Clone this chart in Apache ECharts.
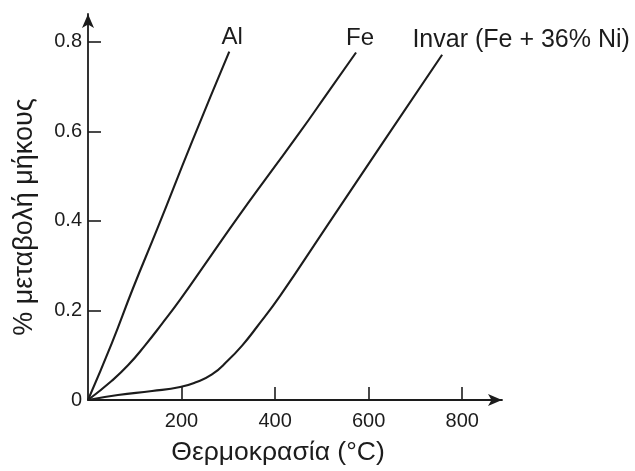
<!DOCTYPE html>
<html>
<head>
<meta charset="utf-8">
<script src="https://cdn.jsdelivr.net/npm/echarts@6/dist/echarts.min.js"></script>
<style>
html,body{margin:0;padding:0;background:#fff;}
#chart{width:635px;height:471px;}
</style>
</head>
<body>
<div id="chart"></div>
<script>
// ---- data ----
const seriesNames = ['Al', 'Fe', 'Invar (Fe + 36% Ni)'];
const alTemp   = [0, 51, 96, 148, 222, 302];
const alStrain = [0, 0.127, 0.249, 0.382, 0.576, 0.778];
const feTemp   = [0, 51, 86, 122, 158, 197, 260, 321, 387, 453, 513, 573];
const feStrain = [0, 0.043, 0.078, 0.122, 0.170, 0.224, 0.318, 0.409, 0.504, 0.598, 0.687, 0.776];
const invTemp   = [0, 64, 137, 197, 229, 265, 299, 329, 361, 411, 511, 635, 757];
const invStrain = [0, 0.011, 0.020, 0.029, 0.039, 0.057, 0.088, 0.121, 0.163, 0.233, 0.389, 0.582, 0.771];
const xTickValues = [200, 400, 600, 800];
const yTickValues = [0.2, 0.4, 0.6, 0.8];
const yLabelValues = [0, 0.2, 0.4, 0.6, 0.8];
const xAxisTitle = 'Θερμοκρασία (°C)';
const yAxisTitle = '% μεταβολή μήκους';

const FONT = '"Liberation Sans", Arial, Helvetica, sans-serif';
const INK = '#1c1c1c';

function pairs(xs, ys, labelOpt) {
  return xs.map((x, i) => {
    const d = { value: [x, ys[i]] };
    if (i === xs.length - 1) d.label = labelOpt;
    return d;
  });
}
const baseLabel = {
  show: true, position: 'top', distance: 2,
  fontFamily: FONT, fontSize: 24, color: INK,
  formatter: p => p.seriesName
};
function lineSeries(name, xs, ys, labelExtra) {
  return {
    name: name, type: 'line', smooth: 0.5, symbol: 'circle', symbolSize: 1, showSymbol: true,
    itemStyle: { color: 'rgba(0,0,0,0)' },
    lineStyle: { color: INK, width: 2.1 },
    label: { show: false },
    data: pairs(xs, ys, Object.assign({}, baseLabel, labelExtra))
  };
}

const chart = echarts.init(document.getElementById('chart'), null, { renderer: 'canvas' });
chart.setOption({
  animation: false,
  backgroundColor: '#fff',
  grid: { left: 88, top: 14, right: 133, bottom: 69, containLabel: false },
  xAxis: {
    type: 'value', min: 0, max: 885,
    name: xAxisTitle, nameLocation: 'middle', nameGap: 39,
    nameTextStyle: { fontFamily: FONT, fontSize: 26.5, color: INK, padding: [0, 34, 0, 0] },
    axisLine: { show: true, onZero: false, symbol: ['none', 'arrow'], symbolSize: [9, 14],
      lineStyle: { color: INK, width: 1.8 } },
    axisTick: { show: true, inside: true, length: 13, customValues: xTickValues,
      lineStyle: { color: INK, width: 1.6 } },
    axisLabel: { customValues: xTickValues, fontFamily: FONT, fontSize: 20, color: INK, margin: 11 },
    splitLine: { show: false }
  },
  yAxis: {
    type: 'value', min: 0, max: 0.862,
    name: yAxisTitle, nameLocation: 'middle', nameGap: 50, nameRotate: 90,
    nameTextStyle: { fontFamily: FONT, fontSize: 27, color: INK, padding: [0, 20, 0, 0] },
    axisLine: { show: true, onZero: false, symbol: ['none', 'arrow'], symbolSize: [9, 14],
      lineStyle: { color: INK, width: 1.8 } },
    axisTick: { show: true, inside: true, length: 13, customValues: yTickValues,
      lineStyle: { color: INK, width: 1.6 } },
    axisLabel: { customValues: yLabelValues, fontFamily: FONT, fontSize: 20, color: INK, margin: 6,
      formatter: v => String(v) },
    splitLine: { show: false }
  },
  series: [
    lineSeries(seriesNames[0], alTemp, alStrain, { offset: [3, 0] }),
    lineSeries(seriesNames[1], feTemp, feStrain, { offset: [4, 0] }),
    lineSeries(seriesNames[2], invTemp, invStrain, { offset: [79, 0], fontSize: 25 })
  ]
});
</script>
</body>
</html>
